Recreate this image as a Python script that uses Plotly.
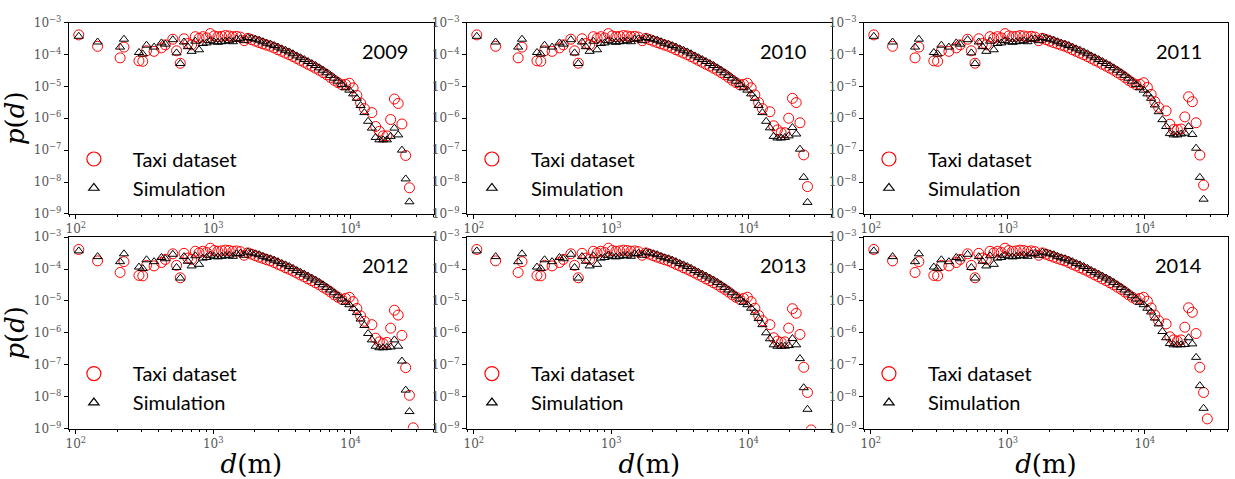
import plotly.graph_objects as go

# Log-binned trip distances (m)
distance_m = [105, 144, 210, 224, 288, 307, 327, 371, 420, 448, 508, 541,
              576, 613, 653, 696, 741, 789, 840, 895, 953, 1015, 1081, 1151,
              1226, 1306, 1391, 1481, 1577, 1680, 1789, 1905, 2029, 2161, 2301,
              2451, 2610, 2780, 2961, 3153, 3358, 3576, 3809, 4056, 4320, 4601,
              4900, 5218, 5557, 5919, 6303, 6713, 7150, 7614,
              8109, 8636, 9198, 9796, 10432, 11110, 11833, 12602, 13421, 14293,
              15222, 16212, 17265, 18388, 19583, 20856, 22212, 23655, 25193,
              26831, 28575]

# p(d) below 8 km, common to all years
taxi_body = [4.1e-4, 1.8e-4, 7.8e-5, 1.7e-4, 6.3e-5, 6.1e-5, 1.3e-4, 1.25e-4, 1.6e-4, 2.0e-4, 3.0e-4, 1.3e-4,
             5.3e-5, 3.1e-4, 2.2e-4, 2.0e-4, 3.6e-4, 3.2e-4, 3.6e-4, 3.3e-4, 4.5e-4, 3.8e-4, 3.6e-4, 3.7e-4,
             3.9e-4, 3.8e-4, 3.6e-4, 3.7e-4, 3.5e-4, 2.7e-4, 3.2e-4, 2.9e-4,
             2.6e-4, 2.35e-4, 2.15e-4, 1.95e-4, 1.8e-4, 1.6e-4, 1.4e-4, 1.25e-4, 1.1e-4, 9.8e-5, 8.6e-5,
             7.5e-5, 6.5e-5, 5.7e-5, 4.9e-5, 4.3e-5, 3.7e-5, 3.2e-5, 2.7e-5, 2.3e-5, 1.9e-5, 1.55e-5]
sim_body = [3.7e-4, 2.45e-4, 1.7e-4, 3.0e-4, 1.15e-4, 1.03e-4, 1.95e-4, 1.7e-4, 2.3e-4, 2.1e-4, 2.9e-4, 1.12e-4,
            5.2e-5, 2.45e-4, 1.75e-4, 1.25e-4, 2.6e-4, 1.4e-4, 2.2e-4, 2.3e-4, 2.7e-4, 2.5e-4, 2.4e-4, 2.5e-4,
            2.6e-4, 2.7e-4, 2.5e-4, 3.0e-4, 3.1e-4, 2.7e-4, 3.4e-4, 3.2e-4,
            3.0e-4, 2.8e-4, 2.5e-4, 2.25e-4, 2.1e-4, 1.9e-4, 1.7e-4, 1.5e-4, 1.35e-4, 1.2e-4, 1.05e-4,
            9.0e-5, 7.9e-5, 6.9e-5, 6.0e-5, 5.2e-5, 4.5e-5, 3.8e-5, 3.2e-5, 2.65e-5, 2.2e-5, 1.8e-5]

# p(d) from 8 km outwards, per year
taxi_tail_2009 = [1.3e-5, 1.12e-5, 1.15e-5, 1.25e-5, 8.9e-6, 5.2e-6, 3.0e-6, 2.0e-6, None, 1.5e-6,
                  5.5e-7, 3.9e-7, 2.8e-7, 2.8e-7, 9.1e-7, 4.0e-6, 2.9e-6, 6.6e-7, 6.8e-8, 6.6e-9, None]
sim_tail_2009 = [1.45e-5, 1.15e-5, 9.0e-6, 7.6e-6, 5.8e-6, 4.2e-6, 2.5e-6, 1.5e-6, 8.0e-7, 4.9e-7,
                 2.5e-7, 2.1e-7, 2.1e-7, 2.1e-7, 2.7e-7, 4.9e-7, 3.0e-7, 1.0e-7, 1.25e-8, 2.4e-9, None]
taxi_tail_2010 = [1.3e-5, 1.12e-5, 1.15e-5, 1.25e-5, 9.0e-6, 5.4e-6, 3.1e-6, 2.0e-6, None, 1.6e-6,
                  5.8e-7, 4.3e-7, 3.5e-7, 3.5e-7, 1.0e-6, 4.2e-6, 3.1e-6, 7.2e-7, 7.1e-8, 7.2e-9, None]
sim_tail_2010 = [1.45e-5, 1.15e-5, 9.0e-6, 7.6e-6, 5.8e-6, 4.2e-6, 2.5e-6, 1.5e-6, 8.0e-7, 5.0e-7,
                 2.7e-7, 2.4e-7, 2.4e-7, 2.5e-7, 2.8e-7, 5.1e-7, 3.2e-7, 1.07e-7, 1.4e-8, 2.3e-9, None]
taxi_tail_2011 = [1.3e-5, 1.12e-5, 1.15e-5, 1.3e-5, 9.2e-6, 5.6e-6, 3.3e-6, 2.2e-6, None, 1.7e-6,
                  6.5e-7, 4.4e-7, 4.4e-7, 4.6e-7, 1.1e-6, 4.7e-6, 3.3e-6, 7.2e-7, 7.0e-8, 8.0e-9, None]
sim_tail_2011 = [1.45e-5, 1.15e-5, 9.0e-6, 7.6e-6, 5.8e-6, 4.2e-6, 2.6e-6, 1.6e-6, 9.0e-7, 5.5e-7,
                 3.3e-7, 3.0e-7, 3.0e-7, 3.2e-7, 3.4e-7, 5.5e-7, 3.1e-7, 1.15e-7, 1.4e-8, 2.9e-9, None]
taxi_tail_2012 = [1.3e-5, 1.12e-5, 1.2e-5, 1.3e-5, 9.5e-6, 5.8e-6, 3.4e-6, 2.3e-6, None, 1.8e-6,
                  6.8e-7, 5.2e-7, 4.6e-7, 5.0e-7, 1.4e-6, 5.1e-6, 3.6e-6, 8.3e-7, 8.1e-8, 1.1e-8, 1.05e-9]
sim_tail_2012 = [1.45e-5, 1.15e-5, 9.0e-6, 7.6e-6, 5.8e-6, 4.3e-6, 2.7e-6, 1.7e-6, 9.5e-7, 6.0e-7,
                 3.8e-7, 3.4e-7, 3.4e-7, 3.5e-7, 3.6e-7, 6.0e-7, 3.8e-7, 1.3e-7, 1.6e-8, 3.4e-9, None]
taxi_tail_2013 = [1.3e-5, 1.12e-5, 1.2e-5, 1.3e-5, 9.5e-6, 5.9e-6, 3.5e-6, 2.4e-6, None, 1.8e-6,
                  7.0e-7, 5.5e-7, 5.0e-7, 5.2e-7, 1.4e-6, 5.7e-6, 4.1e-6, 8.9e-7, 8.3e-8, 1.35e-8, 9.0e-10]
sim_tail_2013 = [1.45e-5, 1.15e-5, 9.0e-6, 7.6e-6, 5.9e-6, 4.4e-6, 2.8e-6, 1.8e-6, 1.0e-6, 6.5e-7,
                 4.2e-7, 3.8e-7, 3.8e-7, 3.8e-7, 4.0e-7, 6.6e-7, 4.2e-7, 1.55e-7, 1.9e-8, 4.0e-9, None]
taxi_tail_2014 = [1.3e-5, 1.12e-5, 1.2e-5, 1.3e-5, 9.8e-6, 6.0e-6, 3.6e-6, 2.4e-6, None, 1.9e-6,
                  7.5e-7, 6.0e-7, 5.5e-7, 6.0e-7, 1.5e-6, 6.1e-6, 4.4e-6, 9.5e-7, 8.3e-8, 1.35e-8, 2.0e-9]
sim_tail_2014 = [1.45e-5, 1.15e-5, 9.0e-6, 7.6e-6, 5.9e-6, 4.5e-6, 2.9e-6, 1.9e-6, 1.1e-6, 7.0e-7,
                 4.6e-7, 4.2e-7, 4.2e-7, 4.2e-7, 4.3e-7, 7.0e-7, 4.5e-7, 1.7e-7, 2.2e-8, 4.3e-9, None]

years = ["2009", "2010", "2011", "2012", "2013", "2014"]
taxi_tails = [taxi_tail_2009, taxi_tail_2010, taxi_tail_2011, taxi_tail_2012, taxi_tail_2013, taxi_tail_2014]
sim_tails = [sim_tail_2009, sim_tail_2010, sim_tail_2011, sim_tail_2012, sim_tail_2013, sim_tail_2014]

x_tick_vals = [1e2, 1e3, 1e4]
x_tick_text = ["10<sup>2</sup>", "10<sup>3</sup>", "10<sup>4</sup>"]
y_tick_vals = [1e-3, 1e-4, 1e-5, 1e-6, 1e-7, 1e-8, 1e-9]
y_tick_text = ["10<sup>\u22123</sup>", "10<sup>\u22124</sup>", "10<sup>\u22125</sup>", "10<sup>\u22126</sup>",
               "10<sup>\u22127</sup>", "10<sup>\u22128</sup>", "10<sup>\u22129</sup>"]
x_minor = [m * 10 ** e for e in range(1, 5) for m in range(2, 10)]

W, H = 1235, 479
col_px = [(66, 432), (465, 831), (863, 1228)]
row_px = [(14, 212), (236, 434)]
X_RANGE = [1.949, 4.607]

RED = "#ff0000"
TICK_FONT = dict(family="DejaVu Serif", size=12, color="#555555")
LEG_FONT = dict(family="Lato", size=20, color="black")

fig = go.Figure()
layout = dict(width=W, height=H, margin=dict(l=0, r=0, t=0, b=0),
              paper_bgcolor="white", plot_bgcolor="white", showlegend=True)
annotations = []

for i, year in enumerate(years):
    r, c = divmod(i, 3)
    n = i + 1
    xa = "x" if n == 1 else f"x{n}"
    ya = "y" if n == 1 else f"y{n}"
    lg = "legend" if n == 1 else f"legend{n}"
    x0, x1 = col_px[c]
    y0, y1 = row_px[r]
    taxi = taxi_body + taxi_tails[i]
    sim = sim_body + sim_tails[i]

    fig.add_trace(go.Scatter(
        x=distance_m, y=taxi, mode="markers", xaxis=xa, yaxis=ya, showlegend=False,
        marker=dict(symbol="circle-open", size=10, color=RED, line=dict(width=1, color=RED)),
        cliponaxis=True))
    fig.add_trace(go.Scatter(
        x=distance_m, y=sim, mode="markers", xaxis=xa, yaxis=ya, showlegend=False,
        marker=dict(symbol="triangle-up-open", size=8, color="black", line=dict(width=1, color="black")),
        cliponaxis=True))
    # legend entries
    fig.add_trace(go.Scatter(
        x=[None], y=[None], mode="markers", xaxis=xa, yaxis=ya, name="Taxi dataset", legend=lg,
        marker=dict(symbol="circle-open", size=14, color=RED, line=dict(width=1.2, color=RED))))
    fig.add_trace(go.Scatter(
        x=[None], y=[None], mode="markers", xaxis=xa, yaxis=ya, name="Simulation", legend=lg,
        marker=dict(symbol="triangle-up-open", size=9, color="black", line=dict(width=1.2, color="black"))))

    axis_common = dict(type="log", showline=True, linecolor="black", linewidth=1, mirror=True,
                       showgrid=False, zeroline=False, ticks="outside", ticklen=4, tickwidth=1,
                       tickcolor="black", tickfont=TICK_FONT)
    layout["xaxis" if n == 1 else f"xaxis{n}"] = dict(
        axis_common, domain=[x0 / W, x1 / W], anchor=ya, range=X_RANGE,
        tickmode="array", tickvals=x_tick_vals, ticktext=x_tick_text,
        title=dict(text="<i>d</i>(m)", font=dict(family="DejaVu Serif", size=26, color="black"),
                   standoff=2) if r == 1 else None)
    # unlabeled overlay axis carrying the minor ticks
    layout[f"xaxis{n + 6}"] = dict(
        type="log", overlaying=xa, anchor=ya, side="bottom", range=X_RANGE,
        domain=[x0 / W, x1 / W], showline=False, showgrid=False, zeroline=False,
        tickmode="array", tickvals=x_minor, ticks="outside", ticklen=2, tickwidth=1,
        tickcolor="black", showticklabels=False)
    layout["yaxis" if n == 1 else f"yaxis{n}"] = dict(
        axis_common, domain=[1 - y1 / H, 1 - y0 / H], anchor=xa, range=[-9, -3],
        tickmode="array", tickvals=y_tick_vals, ticktext=y_tick_text,
        title=dict(text="<i>p</i>(<i>d</i>)", font=dict(family="DejaVu Serif", size=26, color="black"),
                   standoff=6) if c == 0 else None)
    layout[lg] = dict(x=(x0 - 14) / W, y=1 - (y0 + 121) / H, xanchor="left", yanchor="top",
                      bgcolor="rgba(0,0,0,0)", font=LEG_FONT, itemwidth=68,
                      tracegroupgap=0, itemclick=False)
    annotations.append(dict(text=year, xref="paper", yref="paper", x=(x1 - 24) / W, y=1 - (y0 + 29) / H,
                            xanchor="right", yanchor="middle", showarrow=False,
                            font=dict(family="Lato", size=20, color="black")))

# a point-free trace on each overlay axis so the minor ticks render
for n in range(1, 7):
    fig.add_trace(go.Scatter(x=[None], y=[None], mode="markers", showlegend=False,
                             xaxis=f"x{n + 6}", yaxis="y" if n == 1 else f"y{n}", hoverinfo="skip"))

layout["annotations"] = annotations
fig.update_layout(**layout)
fig.write_html("out.html")
